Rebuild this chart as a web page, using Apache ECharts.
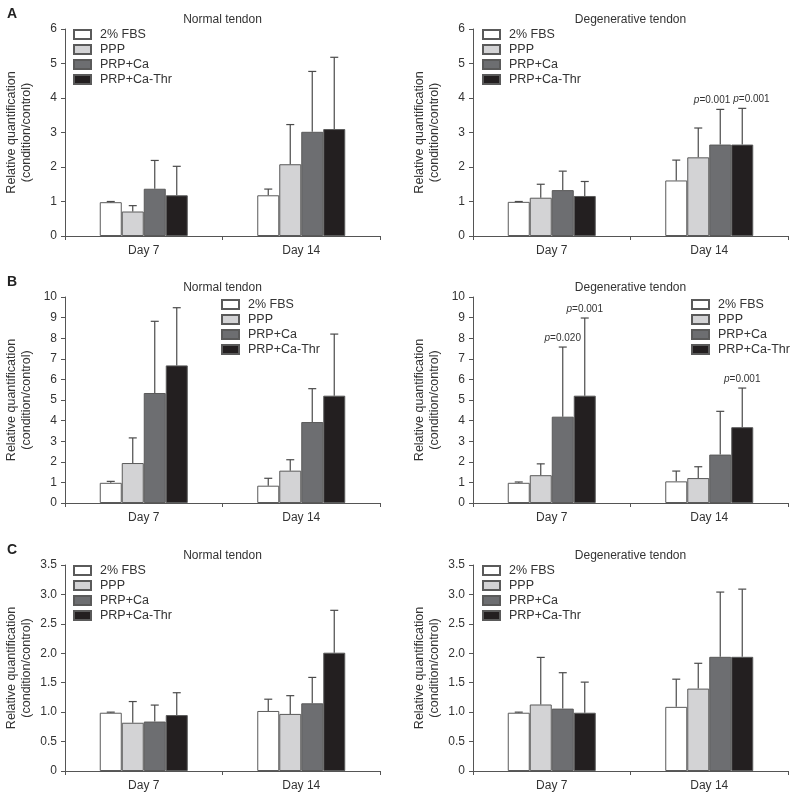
<!DOCTYPE html>
<html lang="en">
<head>
    <meta charset="UTF-8">
    <title>Relative quantification</title>
    <style>
        html, body {margin: 0; padding: 0; background: #fff;}
    </style>
</head>
<body>
<div id="main" style="width: 797px;height:796px;"></div>
</body>
<script src="https://cdn.jsdelivr.net/npm/echarts@6/dist/echarts.min.js"></script>
<script>
    var days = ['Day 7', 'Day 14'];
    var groups = ['2% FBS', 'PPP', 'PRP+Ca', 'PRP+Ca-Thr'];
    var groupColors = ['#ffffff', '#d3d3d5', '#6d6e71', '#231f20'];

    // [Day 7, Day 14] for each group: bar height, top of error bar
    var aNormalMean = [[0.98, 1.18], [0.71, 2.08], [1.37, 3.02], [1.18, 3.10]];
    var aNormalUpper = [[1.00, 1.36], [0.88, 3.23], [2.19, 4.77], [2.02, 5.18]];
    var aDegenMean = [[0.99, 1.61], [1.11, 2.28], [1.33, 2.65], [1.16, 2.65]];
    var aDegenUpper = [[1.00, 2.20], [1.50, 3.13], [1.88, 3.67], [1.58, 3.70]];

    var bNormalMean = [[0.98, 0.84], [1.94, 1.57], [5.34, 3.93], [6.68, 5.21]];
    var bNormalUpper = [[1.05, 1.20], [3.16, 2.10], [8.82, 5.55], [9.48, 8.20]];
    var bDegenMean = [[0.98, 1.05], [1.35, 1.21], [4.19, 2.35], [5.21, 3.68]];
    var bDegenUpper = [[1.02, 1.55], [1.90, 1.76], [7.57, 4.45], [8.98, 5.58]];

    var cNormalMean = [[0.99, 1.02], [0.82, 0.97], [0.84, 1.15], [0.95, 2.01]];
    var cNormalUpper = [[1.00, 1.22], [1.18, 1.28], [1.12, 1.59], [1.33, 2.73]];
    var cDegenMean = [[0.99, 1.09], [1.13, 1.40], [1.06, 1.94], [0.99, 1.94]];
    var cDegenUpper = [[1.00, 1.56], [1.93, 1.83], [1.67, 3.04], [1.51, 3.09]];

    var yMaxList = [6, 6, 10, 10, 3.5, 3.5];
    var yStepList = [1, 1, 1, 1, 0.5, 0.5];
    var panelTitles = ['Normal tendon', 'Degenerative tendon', 'Normal tendon', 'Degenerative tendon', 'Normal tendon', 'Degenerative tendon'];
    var panelLetters = ['A', 'B', 'C'];

    // p values: [panel, day, group, text]
    var pValues = [
        [1, 1, 2, '0.001'],
        [1, 1, 3, '0.001'],
        [3, 0, 2, '0.020'],
        [3, 0, 3, '0.001'],
        [3, 1, 3, '0.001']
    ];

    var meanList = [aNormalMean, aDegenMean, bNormalMean, bDegenMean, cNormalMean, cDegenMean];
    var upperList = [aNormalUpper, aDegenUpper, bNormalUpper, bDegenUpper, cNormalUpper, cDegenUpper];

    // layout
    var gridLeft = [65, 473];
    var gridTop = [29, 297, 565];
    var gridHeight = [207, 206, 206];
    var gridWidth = 315;
    var barW = 22;
    var legendPos = [
        {left: 73, top: 28}, {left: 482, top: 28},
        {left: 221, top: 298}, {left: 691, top: 298},
        {left: 73, top: 564}, {left: 482, top: 564}
    ];
    // the two p labels in panel A (right) sit side by side
    var pAlign = {'1-1-2': 'right', '1-1-3': 'left'};

    var font = 'Liberation Sans, Arial, sans-serif';
    var axisColor = '#555';
    var textColor = '#333';

    var app = echarts.init(document.getElementById('main'));

    function errorRender(params, api) {
        var day = api.value(0);
        var k = api.value(3);
        var top = api.coord([day, api.value(1)]);
        var base = api.coord([day, api.value(2)]);
        var x = top[0] + (k - 1.5) * barW;
        var children = [
            {
                type: 'line',
                shape: {x1: x, y1: base[1], x2: x, y2: top[1]},
                style: {stroke: '#4a4a4a', lineWidth: 1.2}
            },
            {
                type: 'line',
                shape: {x1: x - 4, y1: top[1], x2: x + 4, y2: top[1]},
                style: {stroke: '#4a4a4a', lineWidth: 1.2}
            }
        ];
        var p = api.value(4);
        if (p) {
            var al = pAlign[api.value(5)] || 'center';
            var tx = x;
            if (al === 'right') tx = x + barW / 2 - 1;
            if (al === 'left') tx = x - barW / 2 + 2;
            children.push({
                type: 'text',
                style: {
                    text: '{i|p}=' + p,
                    x: tx,
                    y: top[1] - 4,
                    align: al,
                    verticalAlign: 'bottom',
                    fontSize: 10,
                    fontFamily: font,
                    fill: textColor,
                    rich: {i: {fontStyle: 'italic', fontSize: 10, fontFamily: font, fill: textColor}}
                }
            });
        }
        return {type: 'group', children: children};
    }

    var grid = [], xAxis = [], yAxis = [], series = [], legend = [], title = [];

    for (var p = 0; p < 6; p++) {
        var row = Math.floor(p / 2), col = p % 2;
        grid.push({left: gridLeft[col], top: gridTop[row], width: gridWidth, height: gridHeight[row]});
        xAxis.push({
            type: 'category',
            gridIndex: p,
            data: days,
            axisLine: {lineStyle: {color: axisColor, width: 1}},
            axisTick: {show: true, length: 4, lineStyle: {color: axisColor}},
            axisLabel: {color: textColor, fontSize: 12, fontFamily: font, margin: 9},
            splitLine: {show: false}
        });
        yAxis.push({
            type: 'value',
            gridIndex: p,
            min: 0,
            max: yMaxList[p],
            interval: yStepList[p],
            name: 'Relative quantification\n(condition/control)',
            nameLocation: 'middle',
            nameRotate: 90,
            nameGap: 31,
            nameMoveOverlap: false,
            nameTextStyle: {color: textColor, fontSize: 12.5, fontFamily: font, lineHeight: 15},
            axisLine: {show: true, lineStyle: {color: axisColor, width: 1}},
            axisTick: {show: true, length: 4, lineStyle: {color: axisColor}},
            axisLabel: {
                color: textColor, fontSize: 12, fontFamily: font, margin: 8,
                formatter: function (v) {
                    if (v === 0) return '0';
                    return yStepList[this] < 1 ? v.toFixed(1) : String(v);
                }.bind(p)
            },
            splitLine: {show: false}
        });
        title.push({
            text: panelTitles[p],
            left: gridLeft[col] + gridWidth / 2,
            top: gridTop[row] - 15,
            padding: 0,
            textAlign: 'center',
            textStyle: {fontSize: 12, fontWeight: 'normal', color: textColor, fontFamily: font}
        });
        legend.push({
            orient: 'vertical',
            left: legendPos[p].left,
            top: legendPos[p].top,
            data: groups,
            icon: 'rect',
            itemWidth: 17,
            itemHeight: 9,
            itemGap: 2,
            padding: 0,
            selectedMode: false,
            textStyle: {fontSize: 12.5, fontFamily: font, color: textColor, lineHeight: 12, padding: [0, 0, 0, 4]}
        });

        for (var k = 0; k < groups.length; k++) {
            series.push({
                name: groups[k],
                type: 'bar',
                xAxisIndex: p,
                yAxisIndex: p,
                barWidth: barW,
                barGap: '0%',
                data: meanList[p][k],
                itemStyle: {color: groupColors[k], borderColor: '#5a5a5a', borderWidth: 1},
                emphasis: {disabled: true},
                animation: false
            });
        }

        var errData = [];
        for (var k2 = 0; k2 < groups.length; k2++) {
            for (var d = 0; d < days.length; d++) {
                var label = '';
                for (var q = 0; q < pValues.length; q++) {
                    if (pValues[q][0] === p && pValues[q][1] === d && pValues[q][2] === k2) label = pValues[q][3];
                }
                errData.push([d, upperList[p][k2][d], meanList[p][k2][d], k2, label, p + '-' + d + '-' + k2]);
            }
        }
        series.push({
            type: 'custom',
            xAxisIndex: p,
            yAxisIndex: p,
            renderItem: errorRender,
            data: errData,
            z: 5,
            silent: true,
            animation: false
        });
    }

    for (var r = 0; r < 3; r++) {
        title.push({
            text: panelLetters[r],
            left: 7,
            top: gridTop[r] - 22,
            padding: 0,
            textStyle: {fontSize: 14, fontWeight: 'bold', color: '#222', fontFamily: font}
        });
    }

    var option = {
        backgroundColor: '#fff',
        animation: false,
        title: title,
        legend: legend,
        grid: grid,
        xAxis: xAxis,
        yAxis: yAxis,
        series: series
    };
    app.setOption(option);
</script>
</html>
